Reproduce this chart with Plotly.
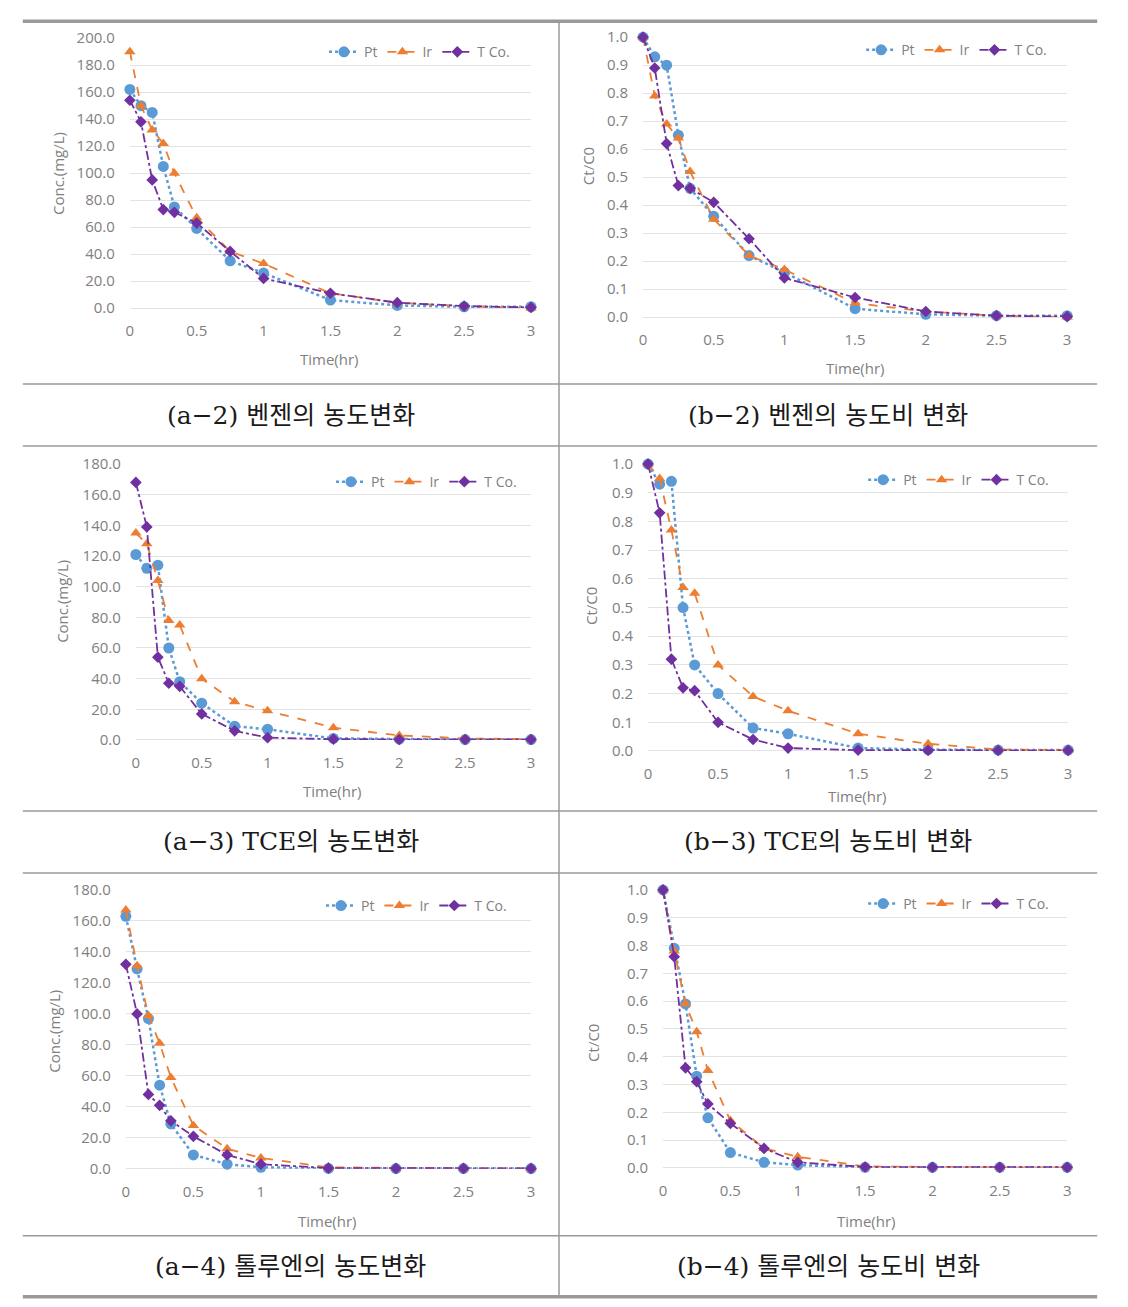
import plotly.graph_objects as go

W, H = 1128, 1307

time_hr = [0, 0.083, 0.167, 0.25, 0.333, 0.5, 0.75, 1.0, 1.5, 2.0, 2.5, 3.0]
series_names = ["Pt", "Ir", "T Co."]

# (a-2) benzene concentration (mg/L)
benz_pt = [162, 150, 145, 105, 75, 59, 35, 26, 6, 2, 1, 1]
benz_ir = [190, 150, 132, 122, 100, 67, 42, 33, 11, 4, 1.5, 0]
benz_tco = [154, 138, 95, 73, 71, 63, 42, 22, 11, 4, 1.5, 0.5]
# (b-2) benzene Ct/C0
benz_r_pt = [1.0, 0.93, 0.90, 0.65, 0.46, 0.36, 0.22, 0.16, 0.03, 0.01, 0.005, 0.005]
benz_r_ir = [1.0, 0.79, 0.69, 0.64, 0.52, 0.35, 0.22, 0.17, 0.05, 0.02, 0.005, 0.0]
benz_r_tco = [1.0, 0.89, 0.62, 0.47, 0.46, 0.41, 0.28, 0.14, 0.07, 0.02, 0.005, 0.002]

# (a-3) TCE concentration (mg/L)
tce_pt = [121, 112, 114, 60, 38, 24, 9, 7, 1, 0.5, 0.3, 0.3]
tce_ir = [135, 128, 104, 78, 75, 40, 25, 19, 8, 3, 1, 0.5]
tce_tco = [168, 139, 54, 37, 35, 17, 6, 1.5, 0.5, 0.3, 0.3, 0.3]
# (b-3) TCE Ct/C0
tce_r_pt = [1.0, 0.93, 0.94, 0.50, 0.30, 0.20, 0.08, 0.06, 0.01, 0.005, 0.003, 0.003]
tce_r_ir = [1.0, 0.95, 0.77, 0.57, 0.55, 0.30, 0.19, 0.14, 0.06, 0.025, 0.005, 0.003]
tce_r_tco = [1.0, 0.83, 0.32, 0.22, 0.21, 0.10, 0.04, 0.01, 0.003, 0.002, 0.002, 0.002]

# (a-4) toluene concentration (mg/L)
tol_pt = [163, 129, 97, 54, 29, 9, 3, 1, 0.3, 0.2, 0.2, 0.2]
tol_ir = [167, 131, 99, 81, 59, 28, 13, 7, 1, 0.5, 0.3, 0.2]
tol_tco = [132, 100, 48, 41, 31, 21, 9, 3, 0.5, 0.3, 0.3, 0.3]
# (b-4) toluene Ct/C0
tol_r_pt = [1.0, 0.79, 0.59, 0.33, 0.18, 0.055, 0.02, 0.01, 0.002, 0.002, 0.002, 0.002]
tol_r_ir = [1.0, 0.78, 0.59, 0.49, 0.35, 0.17, 0.07, 0.04, 0.005, 0.003, 0.002, 0.002]
tol_r_tco = [1.0, 0.76, 0.36, 0.31, 0.23, 0.16, 0.07, 0.02, 0.003, 0.002, 0.002, 0.002]

captions = [
    "(a−2) 벤젠의 농도변화", "(b−2) 벤젠의 농도비 변화",
    "(a−3) TCE의 농도변화", "(b−3) TCE의 농도비 변화",
    "(a−4) 톨루엔의 농도변화", "(b−4) 톨루엔의 농도비 변화",
]

# panel pixel geometry: x0,x3 (px of x=0 / x=3), ytop, ybot (px of ymax / 0), ymax, dtick
panels = [
    dict(x0=130, x3=531, ytop=37, ybot=307, ymax=200, dt=20, ylab="Conc.(mg/L)",
         data=[benz_pt, benz_ir, benz_tco], ytx=58, yty=172, xtx=330, xty=358, lgx=515, lgy=51),
    dict(x0=643, x3=1067, ytop=36, ybot=316, ymax=1.0, dt=0.1, ylab="Ct/C0",
         data=[benz_r_pt, benz_r_ir, benz_r_tco], ytx=588, yty=165, xtx=855, xty=367, lgx=1052, lgy=49),
    dict(x0=136, x3=531, ytop=463, ybot=739, ymax=180, dt=20, ylab="Conc.(mg/L)",
         data=[tce_pt, tce_ir, tce_tco], ytx=62, yty=600, xtx=333, xty=790, lgx=522, lgy=481),
    dict(x0=648, x3=1068, ytop=463, ybot=750, ymax=1.0, dt=0.1, ylab="Ct/C0",
         data=[tce_r_pt, tce_r_ir, tce_r_tco], ytx=591, yty=605, xtx=857, xty=795, lgx=1054, lgy=479),
    dict(x0=126, x3=531, ytop=889, ybot=1168, ymax=180, dt=20, ylab="Conc.(mg/L)",
         data=[tol_pt, tol_ir, tol_tco], ytx=54, yty=1030, xtx=328, xty=1220, lgx=512, lgy=905),
    dict(x0=663, x3=1067, ytop=889, ybot=1167, ymax=1.0, dt=0.1, ylab="Ct/C0",
         data=[tol_r_pt, tol_r_ir, tol_r_tco], ytx=593, yty=1042, xtx=866, xty=1220, lgx=1054, lgy=903),
]

colors = ["#5B9BD5", "#ED7D31", "#7030A0"]
dashes = ["dot", "dash", "dashdot"]
symbols = ["circle", "triangle-up", "diamond"]
msizes = [11, 10, 9]
widths = [2.5, 1.8, 1.8]

GRAY = "#808080"
FONT = "Open Sans"

# compensation for the capture's slight scaling about the page centre
CX, CY, SX, SY = 564.0, 653.5, 0.9926, 0.985

def px_x(v):
    return (CX + (v - CX) / SX) / W

def px_y(v):
    return 1 - (CY + (v - CY) / SY) / H

fig = go.Figure()
layout = dict(
    width=W, height=H, margin=dict(l=0, r=0, t=0, b=0, pad=0), autosize=False,
    paper_bgcolor="white", plot_bgcolor="white", showlegend=True,
    annotations=[], shapes=[],
)

for i, p in enumerate(panels):
    n = i + 1
    xa = "x" if n == 1 else f"x{n}"
    ya = "y" if n == 1 else f"y{n}"
    lg = "legend" if n == 1 else f"legend{n}"
    for k in range(3):
        fig.add_trace(go.Scatter(
            x=time_hr, y=p["data"][k], name=series_names[k], mode="lines+markers",
            line=dict(color=colors[k], dash=dashes[k], width=widths[k]),
            marker=dict(symbol=symbols[k], size=msizes[k], color=colors[k]),
            xaxis=xa, yaxis=ya, legend=lg, cliponaxis=False,
        ))
    xkey = "xaxis" if n == 1 else f"xaxis{n}"
    ykey = "yaxis" if n == 1 else f"yaxis{n}"
    layout[xkey] = dict(
        domain=[px_x(p["x0"]), px_x(p["x3"])], range=[0, 3], dtick=0.5, tick0=0,
        anchor=ya, showgrid=False, zeroline=False, showline=False, ticks="",
        tickfont=dict(family=FONT, size=15, color=GRAY), ticklabelstandoff=12,
        fixedrange=True,
    )
    layout[ykey] = dict(
        domain=[px_y(p["ybot"]), px_y(p["ytop"])], range=[0, p["ymax"]], dtick=p["dt"], tick0=0,
        anchor=xa, showgrid=True, gridcolor="#E3E3E3", gridwidth=1, zeroline=True,
        zerolinecolor="#E3E3E3", zerolinewidth=1, showline=False, ticks="",
        tickformat=".1f", tickfont=dict(family=FONT, size=15, color=GRAY),
        ticklabelstandoff=14, fixedrange=True,
    )
    layout[lg] = dict(
        orientation="h", x=px_x(p["lgx"]), y=px_y(p["lgy"]), xanchor="right", yanchor="middle",
        font=dict(family=FONT, size=14, color=GRAY), bgcolor="rgba(0,0,0,0)",
        itemwidth=30, tracegroupgap=0,
    )
    layout["annotations"].append(dict(
        text=p["ylab"], x=px_x(p["ytx"]), y=px_y(p["yty"]), xref="paper", yref="paper",
        textangle=-90, showarrow=False, font=dict(family=FONT, size=15, color=GRAY),
        xanchor="center", yanchor="middle",
    ))
    layout["annotations"].append(dict(
        text="Time(hr)", x=px_x(p["xtx"]), y=px_y(p["xty"]), xref="paper", yref="paper",
        showarrow=False, font=dict(family=FONT, size=15, color=GRAY),
        xanchor="center", yanchor="middle",
    ))

cap_pos = [(291, 414), (828, 414), (291, 841), (828, 841), (291, 1266), (828, 1266)]
for txt, (cx, cy) in zip(captions, cap_pos):
    layout["annotations"].append(dict(
        text=txt, x=px_x(cx), y=px_y(cy), xref="paper", yref="paper", showarrow=False,
        font=dict(family="DejaVu Serif, Noto Sans CJK KR", size=25, color="#1a1a1a"),
        xanchor="center", yanchor="middle",
    ))

LINE = "#9A9A9A"
def hline(y, w):
    return dict(type="line", xref="paper", yref="paper", x0=px_x(23), x1=px_x(1097),
                y0=px_y(y), y1=px_y(y), line=dict(color=LINE, width=w), layer="above")

layout["shapes"] += [hline(20, 3.5), hline(1296, 3.5)]
for y in [383, 445, 810, 872, 1235]:
    layout["shapes"].append(hline(y, 1.5))
layout["shapes"].append(dict(type="line", xref="paper", yref="paper", x0=px_x(559), x1=px_x(559),
                             y0=px_y(20), y1=px_y(1296), line=dict(color=LINE, width=1.5)))

fig.update_layout(**layout)
fig.write_html(
    "out.html",
    config={"responsive": False, "displayModeBar": False},
    post_script="document.body.style.margin='0';document.documentElement.style.overflow='hidden';document.body.style.overflow='hidden';",
)
